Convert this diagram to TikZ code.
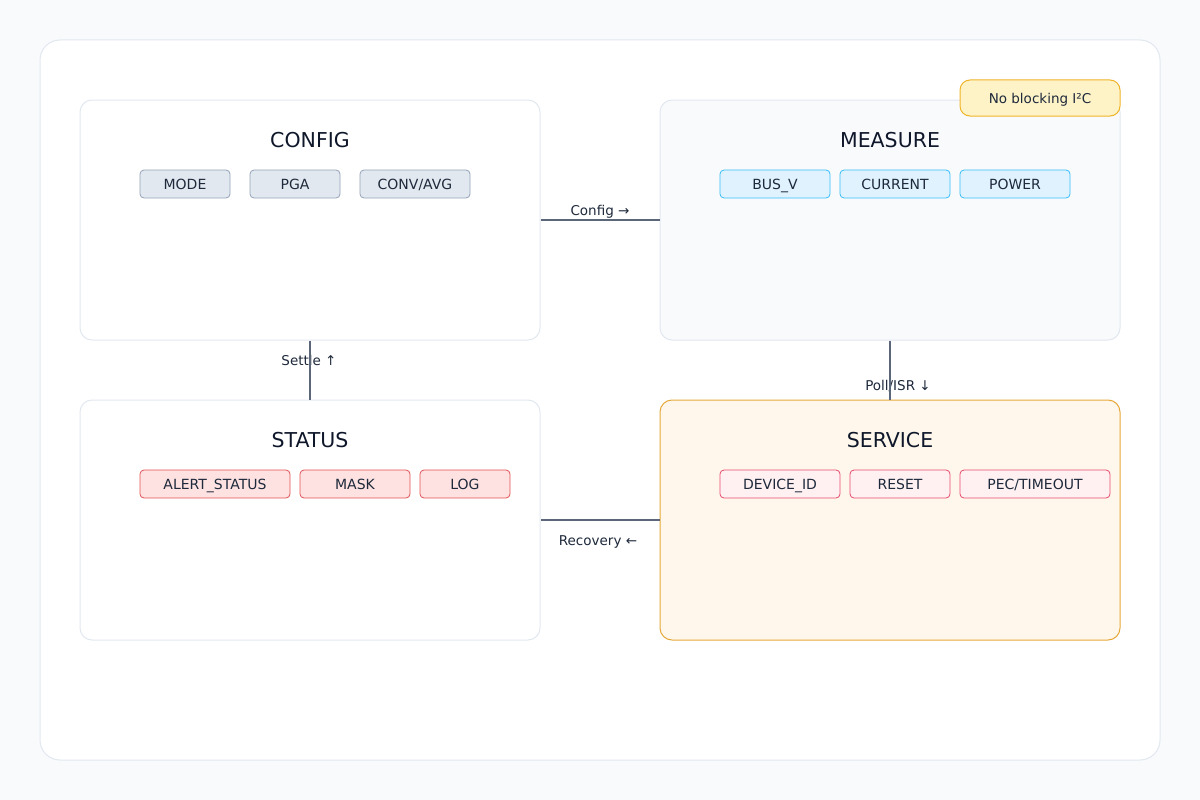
\documentclass[tikz,border=0pt]{standalone}
\usepackage{fontspec}
\setmainfont{DejaVu Sans}
\definecolor{pagebg}{HTML}{F8FAFC}
\definecolor{frame}{HTML}{E2E8F0}
\definecolor{ink}{HTML}{0F172A}
\definecolor{textc}{HTML}{1E293B}
\definecolor{edge}{HTML}{5B6678}
\definecolor{cfgfill}{HTML}{E2E8F0}
\definecolor{cfgdraw}{HTML}{94A3B8}
\definecolor{mfill}{HTML}{E0F2FE}
\definecolor{mdraw}{HTML}{38BDF8}
\definecolor{sfill}{HTML}{FEE2E2}
\definecolor{sdraw}{HTML}{DC2626}
\definecolor{vfill}{HTML}{FFF1F2}
\definecolor{vdraw}{HTML}{E11D48}
\definecolor{svcfill}{HTML}{FFF7EB}
\definecolor{svcdraw}{HTML}{E5A93B}
\definecolor{notefill}{HTML}{FEF3C7}
\definecolor{notedraw}{HTML}{F0B429}
\tikzset{
  panel/.style={draw=frame, line width=1pt, rounded corners=12pt, fill=white,
    minimum width=460pt, minimum height=240pt, inner sep=0pt},
  ptitle/.style={font=\fontsize{20.5}{24}\selectfont, text=ink, inner sep=0pt, anchor=center},
  chip/.style={draw, line width=0.8pt, rounded corners=4pt, minimum height=28pt,
    inner sep=0pt, text height=10pt, text depth=0pt,
    font=\fontsize{14}{16}\selectfont, text=textc},
  cchip/.style={chip, fill=cfgfill, draw=cfgdraw},
  mchip/.style={chip, fill=mfill, draw=mdraw},
  schip/.style={chip, fill=sfill, draw=sdraw!80},
  vchip/.style={chip, fill=vfill, draw=vdraw!80},
  elabel/.style={font=\fontsize{13.5}{15}\selectfont, text=textc, inner sep=0pt,
    text height=10pt, text depth=0pt},
  link/.style={draw=edge, line width=1.6pt},
}
\begin{document}
\begin{tikzpicture}[x=1pt,y=-1pt]
\useasboundingbox (0,0) rectangle (1200,800);
\fill[pagebg] (0,0) rectangle (1200,800);
\draw[frame, fill=white, line width=1pt, rounded corners=20pt] (40,40) rectangle (1160,760);

% panels
\node[panel] (config) at (310,220) {};
\node[panel, fill=pagebg] (measure) at (890,220) {};
\node[panel] (status) at (310,520) {};
\node[panel, fill=svcfill, draw=svcdraw] (service) at (890,520) {};

% note
\node[draw=notedraw, fill=notefill, line width=1pt, rounded corners=10pt,
  minimum width=160pt, minimum height=36pt, inner sep=0pt,
  text height=10pt, text depth=0pt,
  font=\fontsize{13.5}{15}\selectfont, text=textc] (note) at (1040,98) {No blocking I²C};

% titles
\node[ptitle] (tconfig) at (310,140) {CONFIG};
\node[ptitle] (tmeasure) at (890,140) {MEASURE};
\node[ptitle] (tstatus) at (310,440) {STATUS};
\node[ptitle] (tservice) at (890,440) {SERVICE};

% chips
\node[cchip, minimum width=90pt] (mode) at (185,184) {MODE};
\node[cchip, minimum width=90pt] (pga) at (295,184) {PGA};
\node[cchip, minimum width=110pt] (conv) at (415,184) {CONV/AVG};

\node[mchip, minimum width=110pt] (busv) at (775,184) {BUS\_V};
\node[mchip, minimum width=110pt] (current) at (895,184) {CURRENT};
\node[mchip, minimum width=110pt] (power) at (1015,184) {POWER};

\node[schip, minimum width=150pt] (alert) at (215,484) {ALERT\_STATUS};
\node[schip, minimum width=110pt] (mask) at (355,484) {MASK};
\node[schip, minimum width=90pt] (log) at (465,484) {LOG};

\node[vchip, minimum width=120pt] (devid) at (780,484) {DEVICE\_ID};
\node[vchip, minimum width=100pt] (reset) at (900,484) {RESET};
\node[vchip, minimum width=150pt] (pec) at (1035,484) {PEC/TIMEOUT};

% connector labels
\node[elabel] (lconfig) at (600,210) {Config →};
\node[elabel] (lsettle) at (309,360) {Settle ↑};
\node[elabel] (lpoll) at (898,385) {Poll/ISR ↓};
\node[elabel] (lrec) at (598,540) {Recovery ←};

% connectors
\draw[link] (config) -- (measure);
\draw[link] (status) -- (config);
\draw[link] (measure) -- (service);
\draw[link] (service) -- (status);
\end{tikzpicture}
\end{document}
